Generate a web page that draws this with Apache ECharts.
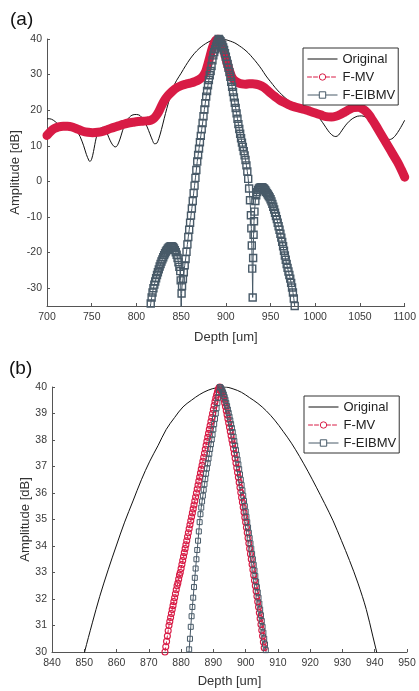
<!DOCTYPE html>
<html>
<head>
<meta charset="utf-8">
<title>Axial profiles: Original / F-MV / F-EIBMV</title>
<script src="https://cdn.jsdelivr.net/npm/echarts@6/dist/echarts.min.js"></script>
<style>
  html, body { margin: 0; padding: 0; background: #fff; }
  #main { width: 419px; height: 691px; }
</style>
</head>
<body>
<div id="main"></div>
<script>
// ---- (a) whole profile, depth 700-1100 um : [depth, amplitude dB] ----
const origA = [
  [700,17.6],[703,17.6],[707,17.2],[711,16.4],[715,15.6],[720,15.4],[725,15.6],[730,15.2],[733,14.4],[737,12.6],
  [741,10.0],[744,7.6],[747,5.8],[748,5.6],[750,6.3],[752,8.4],[755,12.2],[758,14.4],[762,15.2],[766,14.2],
  [769,12.4],[772,10.8],[775,9.8],[777,9.7],[780,10.8],[783,13.0],[786,15.4],[790,17.4],[795,18.6],[800,18.8],
  [804,18.5],[808,17.3],[812,15.3],[815,13.4],[818,11.5],[820,10.6],[822,10.6],[825,12.0],[828,14.6],[831,17.6],
  [834,20.5],[838,24.0],[842,26.9],[845,28.4],[850,30.4],[855,32.5],[860,34.4],[865,36.0],[870,37.3],[875,38.3],
  [880,39.1],[885,39.7],[890,40.0],[895,40.0],[900,39.8],[905,39.4],[910,38.9],[915,38.1],[920,37.2],[925,36.1],
  [930,34.7],[935,33.2],[940,31.5],[945,29.6],[950,28.0],[955,26.4],[960,25.0],[965,23.8],[970,22.7],[975,21.8],
  [980,21.1],[985,20.5],[990,20.0],[995,19.5],[1000,18.9],[1004,17.9],[1008,16.6],[1012,15.1],[1016,13.7],[1020,12.8],
  [1023,12.6],[1026,13.0],[1030,14.4],[1034,15.8],[1038,16.9],[1042,17.7],[1047,18.3],[1052,18.4],[1057,18.0],[1062,17.2],
  [1066,16.4],[1070,15.2],[1074,13.8],[1078,12.5],[1082,11.8],[1084,11.8],[1087,12.2],[1090,13.0],[1094,14.5],[1097,15.8],
  [1100,17.2]
];
const fmvA = [
  [700,12.9],[704,14.0],[708,14.8],[713,15.3],[718,15.5],[723,15.5],[729,15.2],[735,14.6],[740,14.1],[746,13.8],
  [751,13.7],[757,13.8],[763,14.1],[768,14.6],[774,15.1],[780,15.6],[785,16.0],[791,16.4],[796,16.6],[802,16.8],
  [807,16.9],[812,17.0],[816,17.2],[819,17.6],[822,18.4],[825,19.6],[828,21.2],[831,22.6],[835,24.0],[840,25.3],
  [845,26.3],[850,26.9],[855,27.3],[860,27.6],[865,28.0],[870,28.6],[874,29.4],[877,30.6],[879,32.1],[881,33.9],
  [883,35.8],[885,37.6],[887,38.9],[889,39.7],[891,40.0],[893,39.8],[895,38.9],[897,37.4],[899,35.6],[901,33.6],
  [903,31.9],[905,30.4],[907,29.2],[910,28.3],[914,27.7],[918,27.4],[922,27.3],[926,27.4],[930,27.4],[934,27.3],
  [938,27.0],[942,26.5],[946,25.7],[950,24.8],[955,23.8],[960,22.9],[965,22.2],[970,21.6],[976,21.0],[982,20.6],
  [988,20.2],[994,19.7],[1000,19.2],[1006,18.7],[1012,18.2],[1018,18.1],[1023,18.3],[1028,18.8],[1033,19.5],[1038,20.2],
  [1043,20.7],[1048,20.8],[1052,20.5],[1056,19.8],[1060,18.7],[1064,17.2],[1068,15.6],[1072,13.9],[1076,12.2],[1080,10.5],
  [1084,8.8],[1088,7.1],[1092,5.4],[1096,3.4],[1100,1.2]
];
const eibmvA = [
  [814,-38.5],[815,-36.5],[816,-34.3],[817,-32.6],[818,-31.2],[819,-30.0],[820,-29.0],[821,-28.1],[822,-27.2],[823,-26.3],
  [824,-25.5],[825,-24.7],[826,-23.9],[827,-23.2],[828,-22.5],[829,-21.9],[830,-21.3],[831,-20.7],[832,-20.2],[833,-19.7],
  [834,-19.3],[835,-18.9],[836,-18.6],[837,-18.4],[838,-18.3],[839,-18.2],[840,-18.3],[841,-18.5],[842,-18.8],[843,-19.3],
  [844,-19.9],[845,-20.6],[846,-21.5],[847,-22.7],[848,-24.0],[849,-25.2],[849.5,-27.8],[850,-40],[850.5,-31.5],[851,-29.4],
  [852,-27.4],[853,-25.5],[854,-23.6],[855,-21.8],[856,-19.8],[857,-17.7],[858,-15.6],[859,-13.6],[860,-11.6],[861,-9.6],
  [862,-7.6],[863,-5.5],[864,-3.3],[865,-1.2],[866,1.0],[867,3.2],[868,5.6],[869,7.4],[870,9.2],[871,11.0],
  [872,12.8],[873,14.6],[874,16.4],[875,18.3],[876,20.2],[877,22.0],[878,23.8],[879,25.4],[880,27.0],[881,28.5],
  [882,29.8],[883,31.0],[884,32.4],[885,34.0],[886,35.4],[887,36.3],[888,37.1],[889,37.9],[890,38.6],[891,39.3],
  [892,40.0],[893,39.7],[894,39.4],[895,38.9],[896,38.3],[897,37.6],[898,36.9],[899,36.0],[900,35.0],[901,34.0],
  [902,33.0],[903,31.9],[904,30.7],[905,29.4],[906,28.0],[907,26.6],[908,25.1],[909,23.6],[910,22.1],[911,20.6],
  [912,19.1],[913,17.6],[914,16.1],[915,14.7],[916,13.4],[917,12.1],[918,10.9],[919,9.7],[920,8.5],[921,7.3],
  [922,6.0],[923,4.5],[924,2.8],[925,0.7],[926,-2.0],[927,-5.3],[928,-9.5],[928.5,-13.2],[929,-18.0],[929.5,-24.5],
  [930,-32.6],[930.5,-21.5],[931,-15.0],[931.5,-11.2],[932,-8.5],[933,-5.5],[934,-3.9],[935,-3.0],[936,-2.4],[937,-2.0],
  [938,-1.8],[939,-1.7],[940,-1.6],[941,-1.7],[942,-1.9],[943,-2.1],[944,-2.5],[945,-2.9],[946,-3.3],[947,-3.7],
  [948,-4.1],[949,-4.5],[950,-5.0],[951,-5.6],[952,-6.3],[953,-7.1],[954,-7.9],[955,-8.8],[956,-9.7],[957,-10.6],
  [958,-11.6],[959,-12.6],[960,-13.6],[961,-14.7],[962,-15.8],[963,-17.0],[964,-18.2],[965,-19.5],[966,-20.8],[967,-22.0],
  [968,-23.2],[969,-24.3],[970,-25.3],[971,-26.3],[972,-27.3],[973,-28.5],[974,-29.8],[975,-31.2],[976,-32.9],[977,-35.0],
  [978,-37.5]
];

// ---- (b) zoom on the main lobe, depth 840-950 um ----
const origB = [
  [848.5,29.2],[850.1,30.0],[852.5,31.1],[854.8,32.1],[857.4,33.1],[859.9,34.0],[862.5,34.9],[865.1,35.7],[867.7,36.5],[870.3,37.2],
  [872.9,37.8],[875.4,38.4],[878,38.85],[880.6,39.25],[883.2,39.5],[885.8,39.72],[888.4,39.88],[890.9,39.97],[893.5,40.0],[896.1,39.93],
  [898.7,39.8],[901.2,39.6],[903.8,39.38],[906.4,39.1],[909,38.75],[911.6,38.33],[914.2,37.88],[916.7,37.38],[919.3,36.82],[921.9,36.22],
  [924.5,35.6],[927.1,34.95],[929.7,34.2],[932.2,33.45],[934.8,32.6],[937.4,31.6],[939.4,30.6],[940.6,30.0],[942,29.3]
];
const depthB = [
  874.75, 875, 875.25, 875.5, 875.75, 876, 876.25, 876.5, 876.75, 877,
  877.25, 877.5, 877.75, 878, 878.25, 878.5, 878.75, 879, 879.25, 879.5,
  879.75, 880, 880.25, 880.5, 880.75, 881, 881.25, 881.5, 881.75, 882,
  882.25, 882.5, 882.75, 883, 883.25, 883.5, 883.75, 884, 884.25, 884.5,
  884.75, 885, 885.25, 885.5, 885.75, 886, 886.25, 886.5, 886.75, 887,
  887.25, 887.5, 887.75, 888, 888.25, 888.5, 888.75, 889, 889.25, 889.5,
  889.75, 890, 890.25, 890.5, 890.75, 891, 891.25, 891.5, 891.75, 892,
  892.25, 892.5, 892.75, 893, 893.25, 893.5, 893.75, 894, 894.25, 894.5,
  894.75, 895, 895.25, 895.5, 895.75, 896, 896.25, 896.5, 896.75, 897,
  897.25, 897.5, 897.75, 898, 898.25, 898.5, 898.75, 899, 899.25, 899.5,
  899.75, 900, 900.25, 900.5, 900.75, 901, 901.25, 901.5, 901.75, 902,
  902.25, 902.5, 902.75, 903, 903.25, 903.5, 903.75, 904, 904.25, 904.5,
  904.75, 905, 905.25, 905.5, 905.75, 906, 906.25, 906.5
];
const fmvB = [
  29.8, 30.0, 30.2, 30.4, 30.6, 30.8, 31.0, 31.15, 31.3, 31.45,
  31.6, 31.75, 31.9, 32.05, 32.2, 32.35, 32.5, 32.6, 32.75, 32.9,
  33.0, 33.15, 33.3, 33.45, 33.6, 33.75, 33.9, 34.05, 34.2, 34.35,
  34.5, 34.65, 34.8, 34.95, 35.1, 35.25, 35.4, 35.55, 35.7, 35.85,
  36.0, 36.15, 36.3, 36.45, 36.6, 36.75, 36.9, 37.05, 37.2, 37.35,
  37.5, 37.65, 37.8, 37.95, 38.1, 38.25, 38.4, 38.55, 38.7, 38.85,
  39.0, 39.15, 39.3, 39.45, 39.58, 39.7, 39.8, 39.9, 39.97, 40.0,
  39.96, 39.88, 39.78, 39.66, 39.54, 39.4, 39.26, 39.1, 38.95, 38.8,
  38.64, 38.48, 38.32, 38.16, 38.0, 37.85, 37.67, 37.49, 37.31, 37.13,
  36.95, 36.77, 36.59, 36.4, 36.21, 36.02, 35.83, 35.65, 35.46, 35.27,
  35.08, 34.9, 34.7, 34.5, 34.3, 34.1, 33.9, 33.7, 33.5, 33.3,
  33.1, 32.9, 32.7, 32.5, 32.3, 32.1, 31.9, 31.7, 31.48, 31.26,
  31.04, 30.82, 30.6, 30.38, 30.16, 29.94, 29.7, 29.45
];
const eibmvB = [
  null, null, null, null, null, null, null, null, null, null,
  null, null, null, null, null, null, null, null, null, null,
  null, null, null, null, null, null, null, null, null, null,
  29.5, 30.1, 30.5, 30.95, 31.35, 31.7, 32.05, 32.45, 32.8, 33.15,
  33.5, 33.85, 34.2, 34.55, 34.9, 35.2, 35.45, 35.68, 35.9, 36.12,
  36.33, 36.53, 36.73, 36.93, 37.12, 37.3, 37.48, 37.66, 37.84, 38.02,
  38.2, 38.4, 38.6, 38.8, 39.0, 39.2, 39.4, 39.6, 39.8, 40.0,
  39.98, 39.93, 39.87, 39.8, 39.72, 39.62, 39.52, 39.4, 39.28, 39.15,
  39.02, 38.88, 38.74, 38.6, 38.45, 38.3, 38.13, 37.96, 37.79, 37.62,
  37.44, 37.26, 37.08, 36.9, 36.7, 36.5, 36.3, 36.1, 35.9, 35.7,
  35.5, 35.3, 35.1, 34.9, 34.7, 34.5, 34.3, 34.1, 33.9, 33.7,
  33.5, 33.29, 33.08, 32.87, 32.66, 32.45, 32.25, 32.05, 31.83, 31.61,
  31.39, 31.17, 30.95, 30.73, 30.51, 30.29, 30.07, 29.85
];

// axis ranges [min, max, step]
const depthRangeA = [700, 1100, 50];
const ampRangeA = [-35, 40, 10];
const depthRangeB = [840, 950, 10];
const ampRangeB = [30, 40, 1];

const FONT = '"Liberation Sans", Arial, Helvetica, sans-serif';
const RED = '#d81b45';
const GRAY = '#485a68';
const BLACK = '#111';
const AXIS = '#555';

function pairs(xs, ys) {
  return xs.map((x, i) => [x, ys[i]]).filter(p => p[1] !== null);
}

function xAxisFor(grid, range, gap) {
  return {
    gridIndex: grid, type: 'value',
    min: range[0], max: range[1], interval: range[2],
    name: 'Depth [um]', nameLocation: 'middle', nameGap: gap, nameMoveOverlap: false,
    nameTextStyle: { fontSize: 13, color: '#333', fontFamily: FONT },
    axisLine: { onZero: false, lineStyle: { color: AXIS, width: 1 } },
    axisTick: { inside: true, length: 3, lineStyle: { color: AXIS } },
    axisLabel: { fontSize: 10.5, color: '#3a3a3a', margin: 6, fontFamily: FONT, formatter: v => String(v) },
    splitLine: { show: false }
  };
}

function yAxisFor(grid, range, gap) {
  const ax = {
    gridIndex: grid, type: 'value',
    min: range[0], max: range[1],
    name: 'Amplitude [dB]', nameLocation: 'middle', nameGap: gap, nameRotate: 90, nameMoveOverlap: false,
    nameTextStyle: { fontSize: 13, color: '#333', fontFamily: FONT },
    axisLine: { show: true, onZero: false, lineStyle: { color: AXIS, width: 1 } },
    axisTick: { show: true, inside: true, length: 3, lineStyle: { color: AXIS } },
    axisLabel: { fontSize: 10.5, color: '#3a3a3a', margin: 5, fontFamily: FONT, formatter: v => String(v) },
    splitLine: { show: false }
  };
  if (range[0] % range[2] === 0) {
    ax.interval = range[2];
  } else {
    // min is off the tick grid: force the step and drop the min label
    ax.minInterval = range[2];
    ax.maxInterval = range[2];
    ax.axisLabel.showMinLabel = false;
    ax.axisLabel.formatter = v => (v % range[2] === 0 ? String(v) : '');
  }
  return ax;
}

function legendAt(left, top) {
  return {
    left: left, top: top, orient: 'vertical', selectedMode: false,
    itemWidth: 30, itemHeight: 8, itemGap: 4,
    padding: [4, 3, 3, 4],
    backgroundColor: '#fff', borderColor: '#333', borderWidth: 1, borderRadius: 0,
    textStyle: { fontSize: 13, color: '#222', fontFamily: FONT, lineHeight: 14 },
    data: [
      { name: 'Original', itemStyle: { opacity: 0 }, lineStyle: { color: BLACK, width: 1, type: 'solid' } },
      { name: 'F-MV', itemStyle: { color: '#fff', borderColor: RED, borderWidth: 1 }, lineStyle: { color: RED, width: 1, type: 'dashed' } },
      { name: 'F-EIBMV', itemStyle: { color: '#fff', borderColor: GRAY, borderWidth: 1 }, lineStyle: { color: GRAY, width: 1, type: 'solid' } }
    ]
  };
}

const chart = echarts.init(document.getElementById('main'), null, { renderer: 'canvas' });

const option = {
  animation: false,
  backgroundColor: '#fff',
  textStyle: { fontFamily: FONT },
  title: [
    { text: '(a)', left: 5, top: 5, textStyle: { fontSize: 19, fontWeight: 'normal', color: BLACK, fontFamily: FONT } },
    { text: '(b)', left: 4, top: 354, textStyle: { fontSize: 19, fontWeight: 'normal', color: BLACK, fontFamily: FONT } }
  ],
  grid: [
    { left: 47, right: 12, top: 39, height: 267 },
    { left: 52, right: 12, top: 387, height: 265 }
  ],
  xAxis: [xAxisFor(0, depthRangeA, 25), xAxisFor(1, depthRangeB, 23)],
  yAxis: [yAxisFor(0, ampRangeA, 25), yAxisFor(1, ampRangeB, 20)],
  legend: [legendAt(303, 48), legendAt(304, 396)],
  series: [
    // (a)
    {
      name: 'Original', type: 'line', xAxisIndex: 0, yAxisIndex: 0,
      data: origA, symbol: 'circle', showSymbol: false, smooth: 0.3, clip: true,
      lineStyle: { color: BLACK, width: 1 }, itemStyle: { color: BLACK }
    },
    {
      name: 'F-MV', type: 'line', xAxisIndex: 0, yAxisIndex: 0,
      data: fmvA, symbol: 'circle', showSymbol: false, smooth: 0.4, clip: true,
      lineStyle: { color: RED, width: 9, cap: 'round', join: 'round' }, itemStyle: { color: RED }
    },
    {
      name: 'F-EIBMV', type: 'line', xAxisIndex: 0, yAxisIndex: 0,
      data: eibmvA, symbol: 'rect', symbolSize: 7, showSymbol: true, showAllSymbol: true, clip: true,
      lineStyle: { color: GRAY, width: 1 },
      itemStyle: { color: 'rgba(255,255,255,0)', borderColor: GRAY, borderWidth: 1.4 }
    },
    // (b)
    {
      name: 'Original', type: 'line', xAxisIndex: 1, yAxisIndex: 1,
      data: origB, symbol: 'circle', showSymbol: false, smooth: 0.35, clip: true,
      lineStyle: { color: BLACK, width: 1 }, itemStyle: { color: BLACK }
    },
    {
      name: 'F-MV', type: 'line', xAxisIndex: 1, yAxisIndex: 1,
      data: pairs(depthB, fmvB), symbol: 'circle', symbolSize: 6, showSymbol: true, showAllSymbol: true, clip: true,
      lineStyle: { color: RED, width: 1, type: 'dashed' },
      itemStyle: { color: 'rgba(255,255,255,0)', borderColor: RED, borderWidth: 1.1 }
    },
    {
      name: 'F-EIBMV', type: 'line', xAxisIndex: 1, yAxisIndex: 1,
      data: pairs(depthB, eibmvB), symbol: 'rect', symbolSize: 5, showSymbol: true, showAllSymbol: true, clip: true,
      lineStyle: { color: GRAY, width: 1 },
      itemStyle: { color: 'rgba(255,255,255,0)', borderColor: GRAY, borderWidth: 1 }
    }
  ]
};

chart.setOption(option);
</script>
</body>
</html>
